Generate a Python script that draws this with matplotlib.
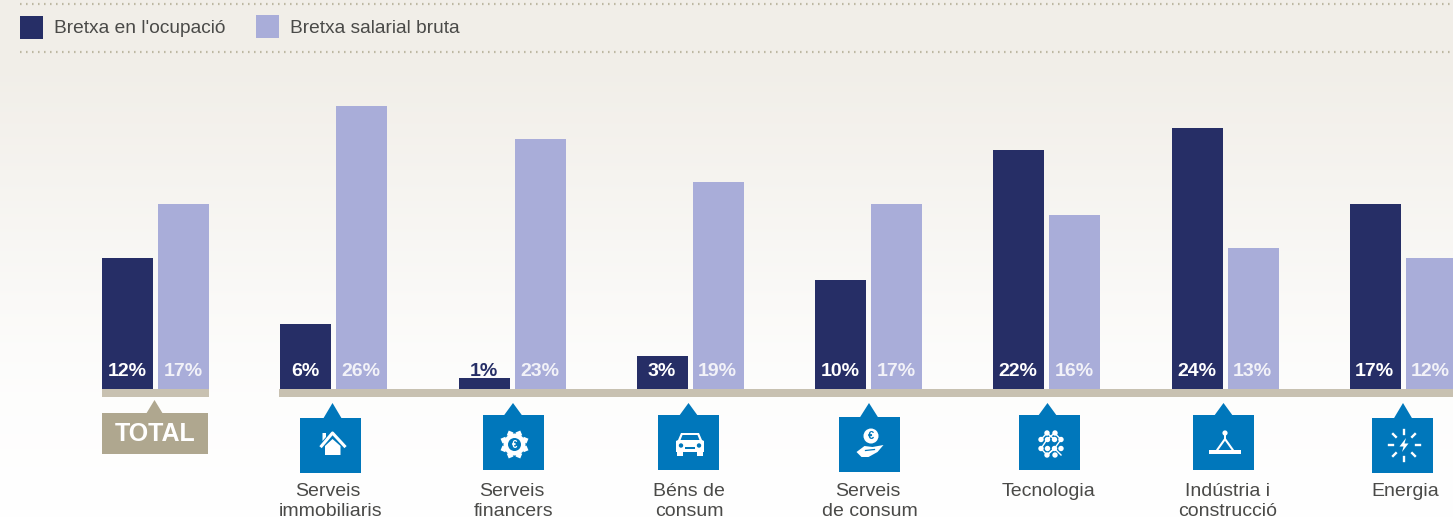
import numpy as np
import matplotlib
matplotlib.use("Agg")
import matplotlib.pyplot as plt
from matplotlib.patches import Rectangle, Polygon, Circle, RegularPolygon

plt.rcParams['font.family'] = ['Liberation Sans', 'DejaVu Sans']

# ---- data ----
categories = ["TOTAL", "Serveis\nimmobiliaris", "Serveis\nfinancers", "Béns de\nconsum",
              "Serveis\nde consum", "Tecnologia", "Indústria i\nconstrucció", "Energia"]
ocupacio = [12, 6, 1, 3, 10, 22, 24, 17]
salarial = [17, 26, 23, 19, 17, 16, 13, 12]
legend_labels = ["Bretxa en l'ocupació", "Bretxa salarial bruta"]

NAVY, LILAC, BLUE, TAUPE, BASE = "#262E66", "#A9ADD9", "#0077BB", "#AFA78F", "#C8C1B1"
TXT = "#4A4A48"
W, H = 1453, 517
fig = plt.figure(figsize=(W / 100, H / 100), dpi=100)

# background
bg = fig.add_axes([0, 0, 1, 1], zorder=0)
bg.axis("off")
stops_y = [0, 60, 340, 400, 517]
stops_v = [0, 0, 0.78, 0.9, 1.0]
t = np.interp(np.arange(H), stops_y, stops_v)[:, None]
c0, c1 = np.array([0xF1, 0xEE, 0xE8]) / 255, np.array([1, 1, 1.0])
img = (c0[None, None, :] * (1 - t[..., None]) + c1[None, None, :] * t[..., None])
bg.imshow(img, aspect="auto", extent=(0, W, H, 0))

# data axes: one unit of x = one group, one unit of y = one percentage point
PX_X, PX_Y, X0, Y0 = 178.25, 10.88, 155.5, 389
ax = fig.add_axes([0, 0, 1, 1], zorder=1)
ax.patch.set_alpha(0)
ax.axis("off")
ax.set_xlim(-X0 / PX_X, (W - X0) / PX_X)
ax.set_ylim(-(H - Y0) / PX_Y, Y0 / PX_Y)
idx = np.arange(len(categories))
off, bw = 28 / PX_X, 51 / PX_X
ax.bar(idx - off, ocupacio, bw, color=NAVY, zorder=2)
ax.bar(idx + off, salarial, bw, color=LILAC, zorder=2)
label_y = 1.6
VFS = 14
for i in idx:
    ax.text(i - off - 0.003, label_y, f"{ocupacio[i]}%", ha="center", va="center", fontsize=VFS,
            fontweight="bold", color=NAVY if ocupacio[i] < 2 else "white", zorder=3)
    ax.text(i + off - 0.003, label_y, f"{salarial[i]}%", ha="center", va="center", fontsize=VFS,
            fontweight="bold", color="#F2F2F8", zorder=3)

# pixel overlay for legend, baseline, tags and icons
ov = fig.add_axes([0, 0, 1, 1], zorder=2)
ov.patch.set_alpha(0)
ov.axis("off")
ov.set_xlim(0, W)
ov.set_ylim(H, 0)

def R(x0, y0, x1, y1, c, z=2):
    ov.add_patch(Rectangle((x0, y0), x1 - x0, y1 - y0, fc=c, ec="none", zorder=z))

def P(pts, c=BLUE, z=2):
    ov.add_patch(Polygon(pts, closed=True, fc=c, ec="none", zorder=z))

for y in (4, 52):
    ov.plot([20, W], [y, y], color="#BDB8A2", lw=1.6, ls=(0, (0.7, 2.0)), zorder=1)
R(20, 16, 43, 39, NAVY)
R(256, 15, 279, 38, LILAC)
ov.text(54, 28.5, legend_labels[0], fontsize=13.8, color=TXT, va="center")
ov.text(290, 28.5, legend_labels[1], fontsize=13.8, color=TXT, va="center")

R(102, 389, 209, 397, BASE)
R(279, 389, W, 397, BASE)

# TOTAL tag
R(102, 413, 208, 454, TAUPE)
P([(146, 414), (154.5, 400), (163, 414)], TAUPE)
ov.text(155.5, 434, categories[0], fontsize=18, fontweight="bold", color="white",
        ha="center", va="center")

# (box left, box top, tip x, first-line x, second-line x)
boxes = [(300, 418, 332.5, 328, 331), (483, 415, 513, 511.5, 513.5),
         (658, 415, 688.5, 689, 689), (839, 417, 869, 867.5, 870),
         (1019, 415, 1047.5, 1048.5, 1048.5), (1193, 415, 1223.5, 1228, 1228),
         (1372, 418, 1403, 1405, 1405)]
LINE1_Y, LINE2_Y = 491, 511
for (bx, by, tx, lx, lx2), label in zip(boxes, categories[1:]):
    R(bx, by, bx + 61, by + 55, BLUE)
    P([(tx - 9.5, by + 1), (tx, 403), (tx + 9.5, by + 1)])
    lines = label.split("\n")
    ov.text(lx, LINE1_Y, lines[0], fontsize=14, color=TXT, ha="center", va="center")
    if len(lines) > 1:
        ov.text(lx2, LINE2_Y, lines[1], fontsize=14, color=TXT, ha="center", va="center")

WHITE = "white"
def house(cx, cy):
    P([(cx - 7.5, cy + 1), (cx, cy - 6), (cx + 8, cy + 1), (cx + 8, cy + 10), (cx - 7.5, cy + 10)], WHITE, 3)
    ov.plot([cx - 11, cx, cx + 12], [cy + 1, cy - 12, cy + 1], color=WHITE, lw=2.2, zorder=3)
    P([(cx - 10, cy - 12), (cx - 6.5, cy - 12), (cx - 6.5, cy - 8), (cx - 10, cy - 4)], WHITE, 3)

def gear(cx, cy):
    ov.add_patch(Circle((cx, cy), 11, fc=WHITE, ec="none", zorder=3))
    for a in np.arange(8) * np.pi / 4 + np.pi / 8:
        ov.add_patch(RegularPolygon((cx + 11.5 * np.cos(a), cy + 11.5 * np.sin(a)), 4, radius=3.6,
                                    orientation=np.pi / 4 - a, fc=WHITE, ec="none", zorder=3))
    ov.add_patch(Circle((cx, cy), 6.5, fc=BLUE, ec="none", zorder=4))
    ov.text(cx, cy, "€", color=WHITE, fontsize=7, fontweight="bold", ha="center", va="center", zorder=5)

def car(cx, cy):
    P([(cx - 9, cy - 11), (cx + 9, cy - 11), (cx + 12, cy - 4), (cx + 14, cy - 3), (cx + 14, cy + 8),
       (cx - 14, cy + 8), (cx - 14, cy - 3), (cx - 12, cy - 4)], WHITE, 3)
    P([(cx - 7.5, cy - 9), (cx + 7.5, cy - 9), (cx + 9.5, cy - 4), (cx - 9.5, cy - 4)], BLUE, 4)
    R(cx - 13, cy + 7, cx - 7, cy + 12, WHITE, 3)
    R(cx + 7, cy + 7, cx + 13, cy + 12, WHITE, 3)
    R(cx - 5, cy + 2.5, cx + 5, cy + 4.5, BLUE, 4)
    ov.add_patch(Circle((cx - 9, cy + 1.5), 2.2, fc=BLUE, ec="none", zorder=4))
    ov.add_patch(Circle((cx + 9, cy + 1.5), 2.2, fc=BLUE, ec="none", zorder=4))

def hand(cx, cy):
    ov.add_patch(Circle((cx + 1.5, cy - 8), 7.5, fc=WHITE, ec="none", zorder=3))
    ov.text(cx + 1.5, cy - 8, "€", color=BLUE, fontsize=8, fontweight="bold", ha="center", va="center", zorder=4)
    P([(cx - 13, cy + 8), (cx - 5, cy + 2), (cx + 3, cy + 3), (cx + 14, cy + 1),
       (cx + 8, cy + 8), (cx - 1, cy + 13), (cx - 8, cy + 13)], WHITE, 3)
    ov.plot([cx - 4, cx + 5], [cy + 6.5, cy + 5.5], color=BLUE, lw=0.9, zorder=4)

def tech(cx, cy):
    for dy, xs in ((-11, (-4, 4)), (-4.5, (-10, -3.5, 3.5, 10)), (4.5, (-10, -3.5, 3.5, 10)), (11, (-4, 4))):
        for dx in xs:
            ov.add_patch(Circle((cx + dx, cy + dy), 2.7, fc=WHITE, ec="none", zorder=3))
    ov.plot([cx - 10, cx - 4, cx + 3.5, cx + 10], [cy + 4.5, cy - 4.5, cy - 11, cy - 4.5], color=WHITE, lw=1.0, zorder=3)
    ov.plot([cx - 4, cx + 3.5, cx + 10], [cy + 11, cy + 4.5, cy - 4.5], color=WHITE, lw=1.0, zorder=3)
    ov.plot([cx - 10, cx - 4, cx + 3.5], [cy - 4.5, cy - 11, cy - 4.5], color=WHITE, lw=1.0, zorder=3)
    ov.plot([cx - 10, cx - 4, cx + 3.5, cx + 10], [cy + 4.5, cy + 11, cy + 4.5, cy + 11], color=WHITE, lw=1.0, zorder=3)

def crane(cx, cy):
    R(cx - 16, cy + 5.5, cx + 16, cy + 9.5, WHITE, 3)
    ov.add_patch(Circle((cx, cy - 11), 2.6, fc=WHITE, ec="none", zorder=3))
    ov.plot([cx, cx], [cy - 11, cy - 5], color=WHITE, lw=1.4, zorder=3)
    ov.plot([cx - 7.5, cx, cx + 7.5], [cy + 5.5, cy - 5, cy + 5.5], color=WHITE, lw=1.5, zorder=3)

def energy(cx, cy):
    P([(cx + 2, cy - 7), (cx - 4.5, cy + 1.5), (cx - 0.5, cy + 1.5), (cx - 2, cy + 7), (cx + 4.5, cy - 1.5), (cx + 0.5, cy - 1.5)], WHITE, 3)
    for a in np.arange(8) * np.pi / 4:
        ov.plot([cx + 11.5 * np.cos(a), cx + 15.5 * np.cos(a)], [cy + 11.5 * np.sin(a), cy + 15.5 * np.sin(a)],
                color=WHITE, lw=1.7, zorder=3)

house(332.5, 445); gear(514.5, 444.5); car(690, 444); hand(869.5, 444)
tech(1051, 444); crane(1225, 444); energy(1404, 445)

fig.savefig("out.png", dpi=100)
